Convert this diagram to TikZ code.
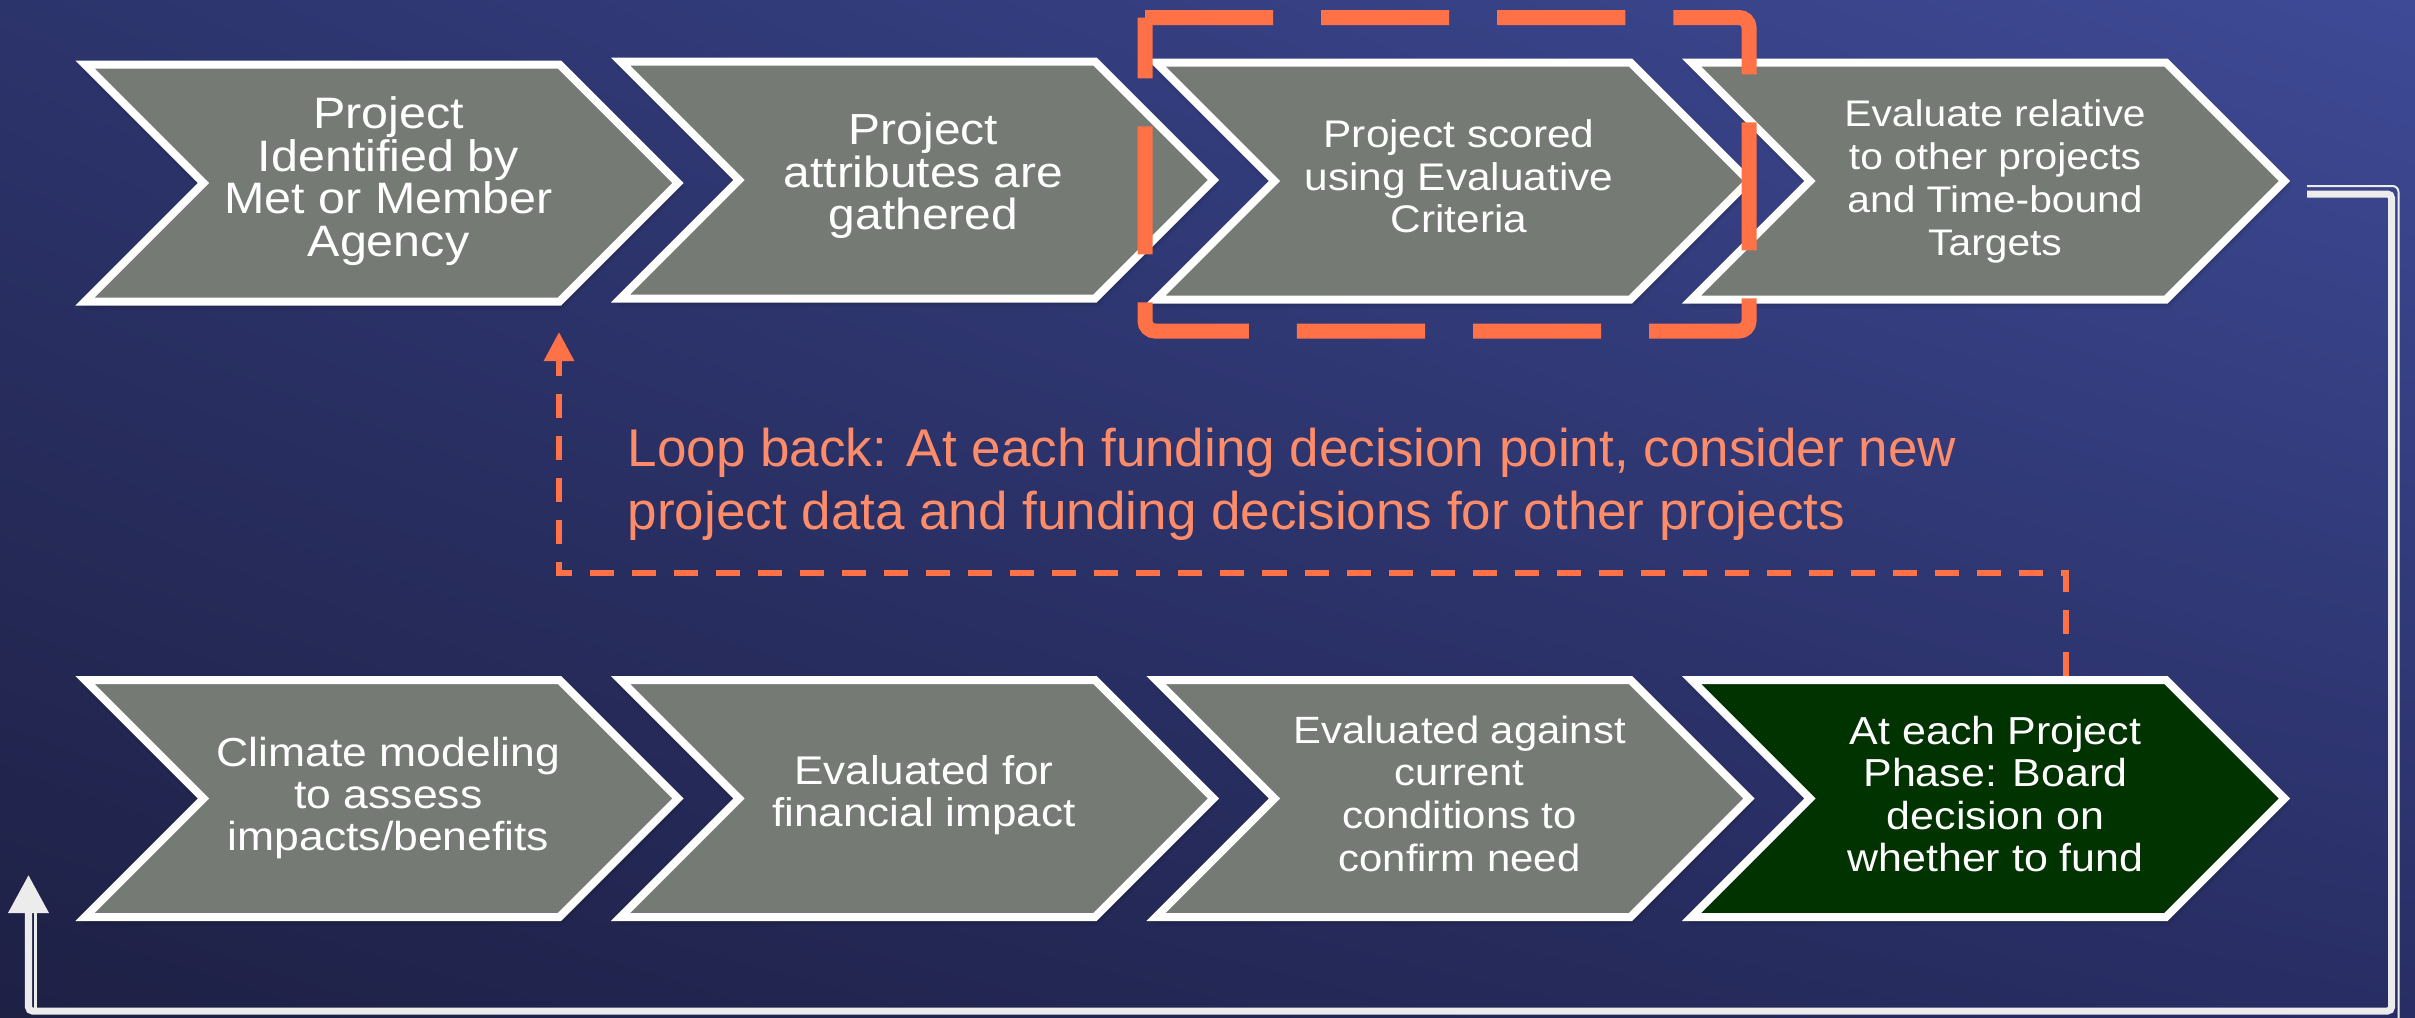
\documentclass[tikz,border=0pt]{standalone}
\usepackage{fontspec}
\setmainfont{Liberation Sans}
\newfontfamily\chevfont[FakeStretch=1.1]{Liberation Sans}
\usetikzlibrary{arrows.meta,shadows.blur,shadings}
\definecolor{bgUL}{RGB}{44,52,108}
\definecolor{bgUR}{RGB}{62,74,150}
\definecolor{bgLL}{RGB}{30,32,68}
\definecolor{bgLR}{RGB}{40,46,100}
\definecolor{chevgray}{RGB}{117,123,116}
\definecolor{chevgreen}{RGB}{0,51,0}
\definecolor{accent}{RGB}{255,114,72}
\definecolor{loopcol}{RGB}{255,140,105}
\definecolor{linecol}{RGB}{236,236,236}
% #1 name, #2 left x (px), #3 centre y (px), #4 fill colour
\newcommand{\mychev}[4]{%
  \draw[chevstroke, fill=#4] (#2,#3-118.5) -- (#2+474.5,#3-118.5) -- (#2+593,#3)
     -- (#2+474.5,#3+118.5) -- (#2,#3+118.5) -- (#2+118.5,#3) -- cycle;
  \coordinate (#1tip) at (#2+593,#3);
  \coordinate (#1top) at (#2+296.5,#3-118.5);
}
\begin{document}
\begin{tikzpicture}[x=0.01cm,y=-0.01cm,
  chevstroke/.style={draw=white, line width=0.08cm, line join=miter,
     blur shadow={shadow xshift=0.01cm, shadow yshift=-0.035cm, shadow blur radius=0.05cm, shadow opacity=45}},
  chevtext/.style={text=white, align=center, inner sep=0pt},
  looptext/.style={text=loopcol, align=left, inner sep=0pt,
     font={\fontsize{15.08pt}{17.93pt}\selectfont}},
  accentbox/.style={draw=accent, line width=0.15cm, rounded corners=0.1cm,
     dash pattern=on 1.28cm off 0.48cm},
  loopline/.style={draw=accent, line width=0.06cm, dash pattern=on 0.24cm off 0.18cm,
     -{Triangle[width=0.29cm,length=0.29cm]}},
  returnline/.style={draw=linecol, line width=0.07cm, rounded corners=0.04cm,
     -{Triangle[width=0.39cm,length=0.38cm]}},
  thinline/.style={draw=linecol, line width=0.02cm, rounded corners=0.06cm}
]
\useasboundingbox (0,0) rectangle (2415,1017);
\shade[upper left=bgUL, upper right=bgUR, lower left=bgLL, lower right=bgLR]
  (0,0) rectangle (2415,1017);

% return connector (white)
\coordinate (w0) at (2307,194);
\coordinate (w1) at (2391.5,194);
\coordinate (w2) at (2391.5,1011);
\coordinate (w3) at (28.5,1011);
\coordinate (wend) at (28.5,875);
\draw[thinline] (2307,186) -- (2398.5,186) -- (2398.5,1020);
\draw[thinline] (35.5,913) -- (35.5,1008);
\draw[returnline] (w0) -- (w1) -- (w2) -- (w3) -- (wend);

% chevrons, top row
\mychev{a}{85}{183}{chevgray}
\mychev{b}{620.5}{180}{chevgray}
\mychev{c}{1156}{181}{chevgray}
\mychev{d}{1691.5}{181}{chevgray}
% chevrons, bottom row
\mychev{e}{85}{798.5}{chevgray}
\mychev{f}{620.5}{798.5}{chevgray}
\mychev{g}{1156}{798.5}{chevgray}
\mychev{h}{1691.5}{798.5}{chevgreen}

% texts
\node[chevtext, font={\chevfont\fontsize{12.52pt}{12.15pt}\selectfont}] (t1) at (388.5,181)
  {Project\\Identified by\\Met or Member\\Agency};
\node[chevtext, font={\chevfont\fontsize{12.38pt}{12.15pt}\selectfont}] (t2) at (923.5,176)
  {Project\\attributes are\\gathered};
\node[chevtext, font={\chevfont\fontsize{10.95pt}{12.1pt}\selectfont}] (t3) at (1459,176.5)
  {Project scored\\using Evaluative\\Criteria};
\node[chevtext, font={\chevfont\fontsize{10.53pt}{12.15pt}\selectfont}] (t4) at (1995,181.5)
  {Evaluate relative\\to other projects\\and Time-bound\\Targets};
\node[chevtext, font={\chevfont\fontsize{11.5pt}{12.0pt}\selectfont}] (t5) at (388.5,798)
  {Climate modeling\\to assess\\impacts/benefits};
\node[chevtext, font={\chevfont\fontsize{11.38pt}{12.15pt}\selectfont}] (t6) at (924,795)
  {Evaluated for\\financial impact};
\node[chevtext, font={\chevfont\fontsize{10.81pt}{12.15pt}\selectfont}] (t7) at (1459.5,793.5)
  {Evaluated against\\current\\conditions to\\confirm need};
\node[chevtext, font={\chevfont\fontsize{11.1pt}{12.0pt}\selectfont}] (t8) at (1995.5,794)
  {At each Project\\Phase: Board\\decision on\\whether to fund};

% orange highlight box
\draw[accentbox] (1145,17.5) -- (1749,17.5) -- (1749,331) -- (1145,331) -- (1145,17.5);

% loop back connector
\coordinate (lstart) at (2066,676);
\coordinate (lc1) at (2066,573);
\coordinate (lc2) at (559,573);
\coordinate (lend) at (559,332);
\draw[loopline] (lstart) -- (lc1) -- (lc2) -- (lend);

\node[looptext, anchor=north west] (loop) at (627,427.8)
  {Loop back: At each funding decision point, consider new\\project data and funding decisions for other projects};
\end{tikzpicture}
\end{document}
